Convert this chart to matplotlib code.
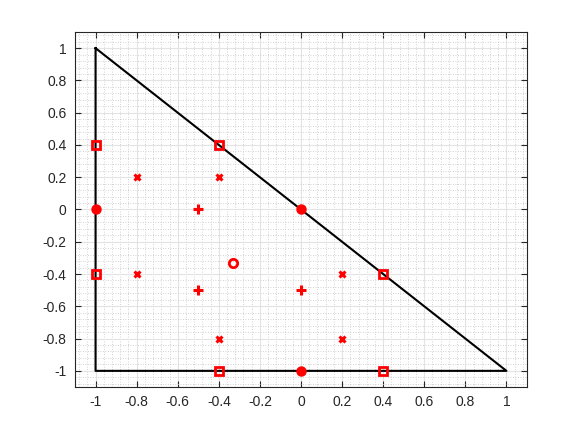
import matplotlib
matplotlib.use("Agg")
import matplotlib.pyplot as plt
import numpy as np

plt.rcParams['font.family'] = ['Liberation Sans', 'DejaVu Sans']

tri_x = [-1, -1, 1, -1]
tri_y = [1, -1, -1, 1]

sq_x = [-1, -0.4, -1, 0.4, -0.4, 0.4]
sq_y = [0.4, 0.4, -0.4, -0.4, -1, -1]

dot_x = [-1, 0, 0]
dot_y = [0, 0, -1]

ring_x = [-1/3]
ring_y = [-1/3]

cross_x = [-0.8, -0.4, -0.8, 0.2, -0.4, 0.2]
cross_y = [0.2, 0.2, -0.4, -0.4, -0.8, -0.8]

plus_x = [-0.5, -0.5, 0]
plus_y = [0, -0.5, -0.5]

ticks = [-1, -0.8, -0.6, -0.4, -0.2, 0, 0.2, 0.4, 0.6, 0.8, 1]
tick_labels = ['-1', '-0.8', '-0.6', '-0.4', '-0.2', '0', '0.2', '0.4', '0.6', '0.8', '1']

fig = plt.figure(figsize=(5.81, 4.36), dpi=100)
ax = fig.add_axes([75/581, 1-387/436, (527-75)/581, (387-32)/436])

ax.set_xlim(-1.1, 1.1)
ax.set_ylim(-1.1, 1.1)
ax.set_xticks(ticks)
ax.set_xticklabels(tick_labels)
ax.set_yticks(ticks)
ax.set_yticklabels(tick_labels)
minor = np.round(np.arange(-1.08, 1.09, 0.04), 2)
ax.set_xticks(minor, minor=True)
ax.set_yticks(minor, minor=True)
ax.grid(True, which='major', color='#e3e3e3', linewidth=0.8, linestyle='-')
ax.grid(True, which='minor', color='#c4c4c4', linewidth=0.6, linestyle=(0, (1, 2)))
ax.set_axisbelow(True)
ax.tick_params(which='major', direction='in', length=4, color='#262626',
               top=True, right=True, labelsize=10, labelcolor='#262626', pad=6)
ax.tick_params(which='minor', length=0)
for s in ax.spines.values():
    s.set_color('#262626')
    s.set_linewidth(0.8)

ax.plot(tri_x, tri_y, color='black', linewidth=1.5, zorder=3)

ax.plot(sq_x, sq_y, linestyle='none', marker='s', markersize=5.5, markerfacecolor='none',
        markeredgecolor='red', markeredgewidth=2, zorder=4)
ax.plot(dot_x, dot_y, linestyle='none', marker='o', markersize=6.5, color='red', zorder=4)
ax.plot(ring_x, ring_y, linestyle='none', marker='o', markersize=6, markerfacecolor='none',
        markeredgecolor='red', markeredgewidth=2, zorder=4)
ax.plot(cross_x, cross_y, linestyle='none', marker='x', markersize=5, color='red',
        markeredgewidth=2.2, zorder=4)
ax.plot(plus_x, plus_y, linestyle='none', marker='+', markersize=7, color='red',
        markeredgewidth=2.2, zorder=4)

fig.savefig('out.png', dpi=100)
